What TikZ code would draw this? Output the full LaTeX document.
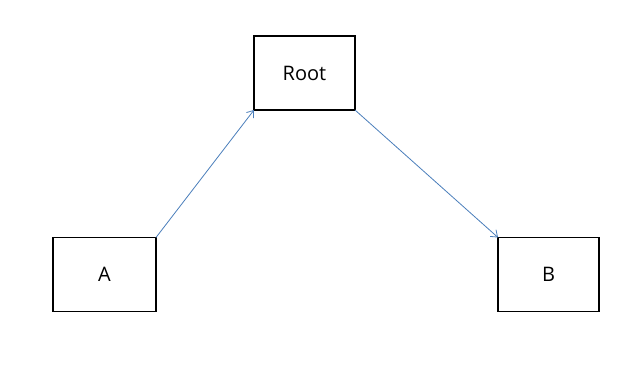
\documentclass[tikz,border=0pt]{standalone}
\usepackage{fontspec}
\setmainfont{Open Sans}
\usetikzlibrary{arrows.meta}
\definecolor{linkblue}{HTML}{4A7EBB}
\definecolor{ink}{HTML}{000000}

\begin{document}
\begin{tikzpicture}[x=1pt, y=-1pt, font=\fontsize{20}{24}\selectfont,
  box/.style={draw=ink, line width=1.6pt, minimum width=101pt, minimum height=74pt,
              inner sep=0pt, outer sep=0pt, fill=white},
  link/.style={draw=linkblue, line width=0.8pt, -{Straight Barb[length=6pt, width=9pt, line width=0.8pt]}}]
\useasboundingbox (0,0) rectangle (631,364);
% ---------------- boxes
\node[box] (root) at (304.5,73) {Root};
\node[box, minimum width=103pt] (a) at (104.5,274.5) {A};
\node[box] (b) at (548.5,274.5) {B};
% ---------------- links
\draw[link] (a.north east) -- (root.south west);
\draw[link] (root.south east) -- (b.north west);
\end{tikzpicture}
\end{document}
